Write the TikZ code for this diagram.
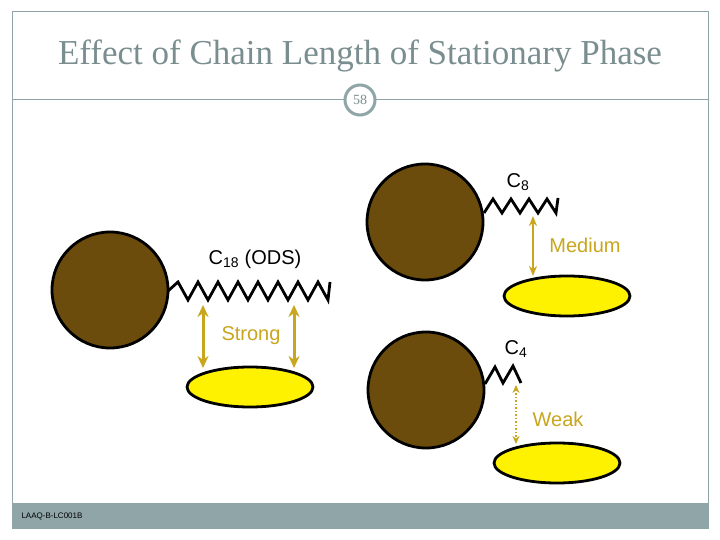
\documentclass[tikz,border=0pt]{standalone}
\usepackage{fontspec}
\setmainfont{Liberation Serif}
\newfontfamily\lab{Liberation Sans}
\usetikzlibrary{arrows.meta,shapes.geometric}
\definecolor{frame}{HTML}{8FA5A8}
\definecolor{ttl}{HTML}{7A8E90}
\definecolor{brn}{HTML}{6B4C0C}
\definecolor{gold}{HTML}{C8A61E}
\tikzset{
  bead/.style={circle,draw=black,line width=2.8pt,fill=brn,minimum size=116pt,inner sep=0pt},
  plate/.style={ellipse,draw=black,line width=2.8pt,fill=yellow,minimum width=126pt,minimum height=40pt,inner sep=0pt},
  lbl/.style={font=\lab\fontsize{20}{22}\selectfont,text=black,inner sep=1pt},
  glbl/.style={font=\lab\fontsize{20}{22}\selectfont,text=gold,inner sep=1pt},
  chain/.style={line width=2.8pt,black,line join=miter},
  force/.style={gold,line width=3pt,{Stealth[length=12pt,width=11pt]}-{Stealth[length=12pt,width=11pt]}},
  medf/.style={gold,line width=2pt,{Stealth[length=10pt,width=8pt]}-{Stealth[length=10pt,width=8pt]}},
  weakf/.style={gold,line width=1.5pt,dotted,{Stealth[length=8pt,width=7pt]}-{Stealth[length=8pt,width=7pt]}}
}
\begin{document}
\begin{tikzpicture}[x=1pt,y=-1pt]
\useasboundingbox (0,0) rectangle (720,540);
\fill[white] (0,0) rectangle (720,540);
\draw[frame,line width=1pt] (12,12) rectangle (708,528);
\fill[frame] (12,503) rectangle (708,528);
\node[font=\lab\fontsize{8}{9}\selectfont,anchor=west] (code) at (18,516) {LAAQ-B-LC001B};
\node[text=ttl,font=\fontsize{35}{40}\selectfont] (title) at (360,56) {Effect of Chain Length of Stationary Phase};
\draw[frame,line width=1pt] (12,100) -- (344,100) (376,100) -- (708,100);
\node[circle,draw=frame,line width=3pt,fill=white,minimum size=30pt,inner sep=0pt,text=ttl,font=\fontsize{14}{15}\selectfont] (num) at (360,100) {58};
% left
\node[bead] (b1) at (110,290) {};
\draw[chain] (168,291) \foreach \i in {0,...,7} { -- ({168+\i*20+10},282) -- ({168+\i*20+20},300)} -- (330,282);
\node[lbl] (c18) at (255,259) {C\textsubscript{18} (ODS)};
\node[plate] (p1) at (250,387) {};
\coordinate (s1t) at (203,305); \coordinate (s1b) at (203,368);
\coordinate (s2t) at (294,305); \coordinate (s2b) at (294,368);
\draw[force] (s1t) -- (s1b);
\draw[force] (s2t) -- (s2b);
\node[glbl] (strong) at (251,336) {Strong};
% top right
\node[bead] (b2) at (425,222) {};
\draw[chain] (484,213) \foreach \i in {0,...,3} { -- ({484+\i*18+9},199) -- ({484+\i*18+18},213)} -- (558,198);
\node[lbl] (c8) at (518,182) {C\textsubscript{8}};
\node[plate] (p2) at (567,296) {};
\coordinate (mt) at (533,216); \coordinate (mb) at (533,276);
\draw[medf] (mt) -- (mb);
\node[glbl] (med) at (585,245) {Medium};
% bottom right
\node[bead] (b3) at (426,390) {};
\draw[chain] (485,384) -- (495,367) -- (503,383) -- (513,366) -- (521,383);
\node[lbl] (c4) at (516,349) {C\textsubscript{4}};
\node[plate] (p3) at (557,463) {};
\coordinate (wt) at (516,385); \coordinate (wb) at (516,444);
\draw[weakf] (wt) -- (wb);
\node[glbl] (weak) at (558,419) {Weak};
\end{tikzpicture}
\end{document}
